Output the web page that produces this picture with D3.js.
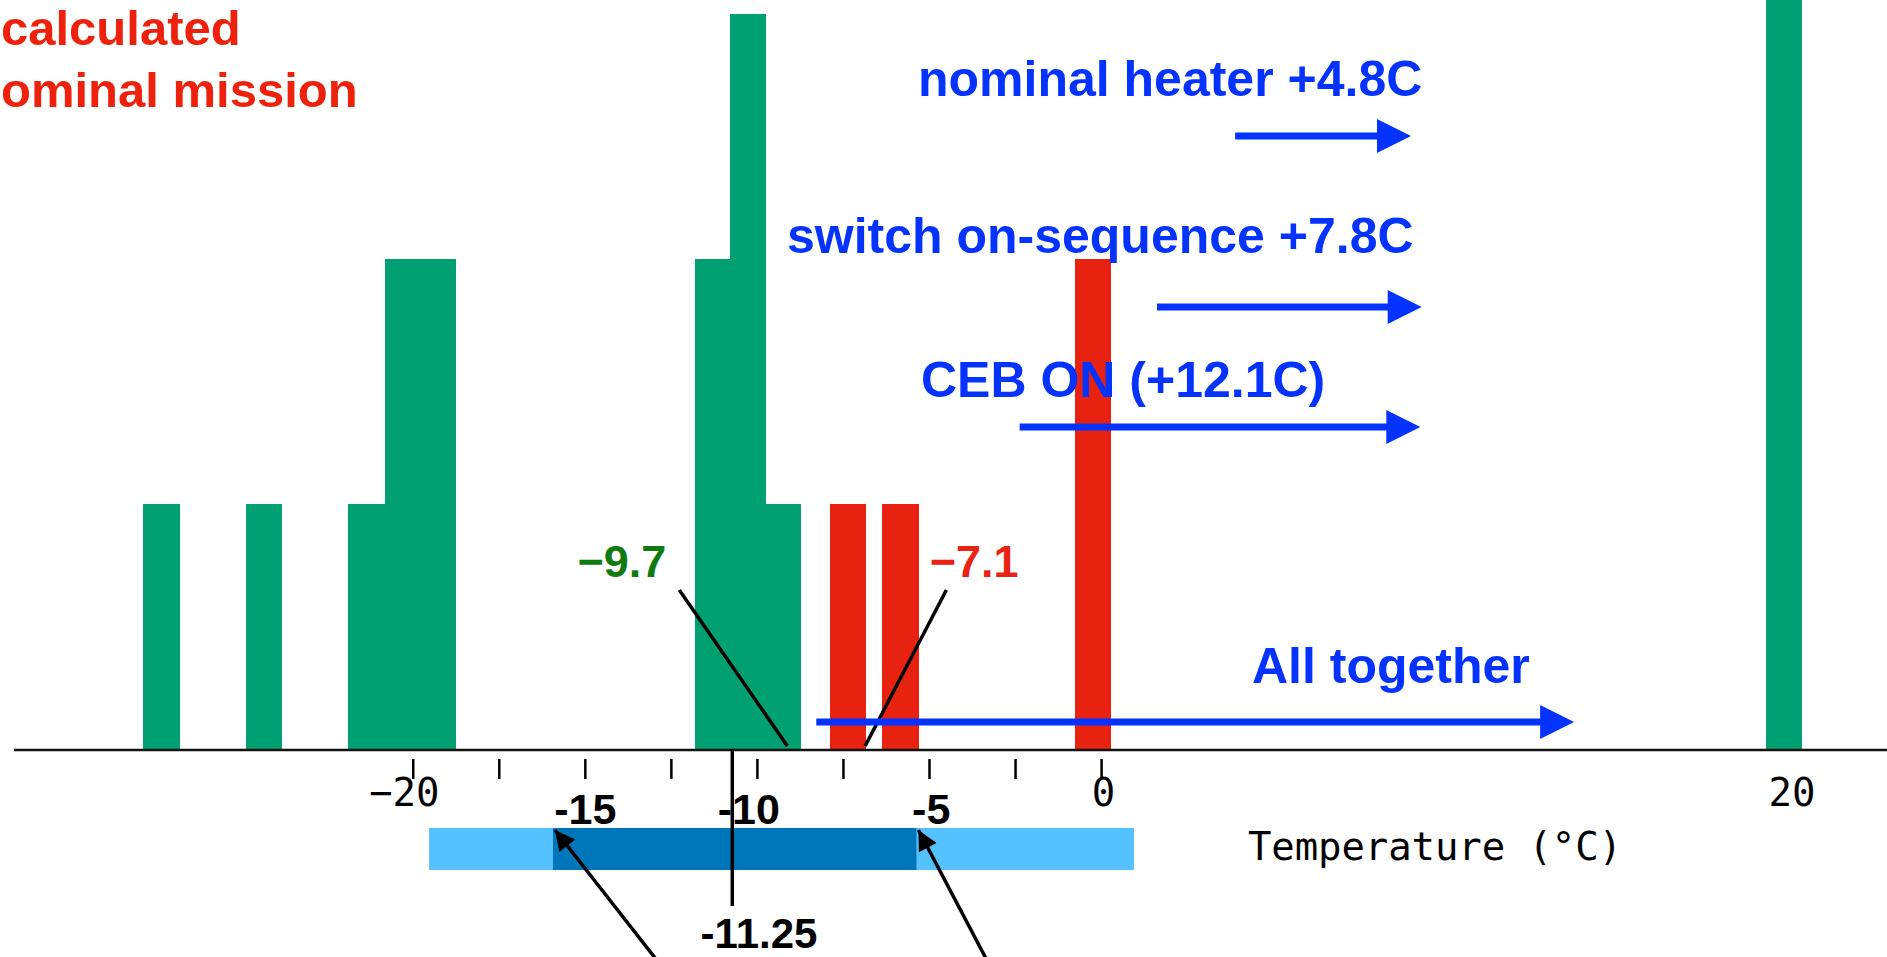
<!DOCTYPE html>
<html>
<head>
<meta charset="utf-8">
<script src="https://cdn.jsdelivr.net/npm/d3@7"></script>
<style>
  html, body { margin: 0; padding: 0; background: #fff; overflow: hidden; }
  .bold { font-family: "Liberation Sans", Arial, Helvetica, sans-serif; font-weight: bold; }
  .mono { font-family: "DejaVu Sans Mono", monospace; }
</style>
</head>
<body>
<div id="chart"></div>
<script>
// histogram bins: [low °C, high °C, count]
const greenBins = [
  [-27.85, -26.78, 1],
  [-24.87, -23.81, 1],
  [-21.89, -20.83, 1],
  [-20.83, -19.79, 2],
  [-19.79, -18.75, 2],
  [-11.80, -10.80, 2],
  [-10.80, -9.74, 3],
  [-9.74, -8.74, 1],
  [19.29, 20.34, 4]
];
const redBins = [
  [-7.89, -6.85, 1],
  [-6.37, -5.30, 1],
  [-0.78, 0.27, 2]
];

const tickValues = [-20, -17.5, -15, -12.5, -10, -7.5, -5, -2.5, 0];
const tickLabels = [-20, 0, 20];

// heating steps: label, arrow start °C, arrow end °C
const heaterLabels = ["nominal heater +4.8C", "switch on-sequence +7.8C", "CEB ON (+12.1C)", "All together"];
const heaterStart = [3.88, 1.61, -2.38, -8.29];
const heaterEnd = [8.99, 9.30, 9.26, 13.73];
const heaterTextX = [918, 787, 921, 1252];
const heaterTextY = [96, 253, 397, 683];
const heaterArrowY = [136, 307, 427, 722];

// mean call-outs: [text, label centre °C, line start °C, line end °C, colour]
const callouts = [
  ["\u22129.7", -13.94, -12.27, -9.13, "#0f7b0f"],
  ["\u22127.1", -3.70, -4.51, -6.87, "#ea2211"]
];

// range band
const bandOuter = [-19.54, 0.94];
const bandInner = [-15.94, -5.38];
const bandLabels = ["-15", "-10", "-5"];
const bandLabelPos = [-15, -10.25, -4.95];
const bandArrowTail = [-12.95, -3.35];
const centreLine = -10.73;
const centreLabel = "-11.25";

const titleLines = ["calculated", "ominal mission"];

const width = 1887;
const height = 957;

const svg = d3.select("#chart")
  .append("svg")
  .attr("width", width)
  .attr("height", height);

const x = d3.scaleLinear()
  .domain([-31.6, 22.82])
  .range([14, width]);

const y = d3.scaleLinear()
  .domain([0, 3])
  .range([749, 14]);

// bars
const bars = svg.append("g").attr("shape-rendering", "crispEdges");
bars.selectAll("rect.green")
  .data(greenBins)
  .enter()
  .append("rect")
  .attr("class", "green")
  .attr("x", d => Math.round(x(d[0])))
  .attr("width", d => Math.round(x(d[1])) - Math.round(x(d[0])))
  .attr("y", d => y(d[2]))
  .attr("height", d => y(0) - y(d[2]))
  .attr("fill", "#00a073");

bars.selectAll("rect.red")
  .data(redBins)
  .enter()
  .append("rect")
  .attr("class", "red")
  .attr("x", d => Math.round(x(d[0])))
  .attr("width", d => Math.round(x(d[1])) - Math.round(x(d[0])))
  .attr("y", d => y(d[2]))
  .attr("height", d => y(0) - y(d[2]))
  .attr("fill", "#e82210");

// axis line
svg.append("line")
  .attr("x1", x.range()[0])
  .attr("x2", x.range()[1])
  .attr("y1", y(0) + 1)
  .attr("y2", y(0) + 1)
  .attr("stroke", "#111")
  .attr("stroke-width", 2.5);

// ticks (detached from the axis line)
svg.append("g").selectAll("line")
  .data(tickValues)
  .enter()
  .append("line")
  .attr("x1", d => x(d))
  .attr("x2", d => x(d))
  .attr("y1", 759)
  .attr("y2", 779)
  .attr("stroke", "#000")
  .attr("stroke-width", 2.5);

const fmt = v => (v < 0 ? "\u2212" : "") + Math.abs(v);
svg.append("g").selectAll("text")
  .data(tickLabels)
  .enter()
  .append("text")
  .attr("class", "mono")
  .attr("x", d => x(d) + 2)
  .attr("dx", d => d < 0 ? -11 : 0)
  .attr("y", 806)
  .attr("text-anchor", "middle")
  .attr("font-size", 39)
  .attr("fill", "#000")
  .text(fmt);

svg.append("text")
  .attr("class", "mono")
  .attr("x", 1248)
  .attr("y", 860)
  .attr("font-size", 39)
  .attr("textLength", 374)
  .attr("fill", "#000")
  .text("Temperature (\u00b0C)");

// red title
svg.append("g").selectAll("text")
  .data(titleLines)
  .enter()
  .append("text")
  .attr("class", "bold")
  .attr("x", 1)
  .attr("y", (d, i) => 45 + i * 62)
  .attr("font-size", 49)
  .attr("fill", "#ee220c")
  .text(d => d);

// range band
svg.append("rect")
  .attr("x", x(bandOuter[0]))
  .attr("width", x(bandOuter[1]) - x(bandOuter[0]))
  .attr("y", 828)
  .attr("height", 42)
  .attr("fill", "#56c1ff");
svg.append("rect")
  .attr("x", x(bandInner[0]))
  .attr("width", x(bandInner[1]) - x(bandInner[0]))
  .attr("y", 828)
  .attr("height", 42)
  .attr("fill", "#0076ba");

svg.append("g").selectAll("text")
  .data(bandLabels)
  .enter()
  .append("text")
  .attr("class", "bold")
  .attr("x", (d, i) => x(bandLabelPos[i]))
  .attr("y", 824)
  .attr("text-anchor", "middle")
  .attr("font-size", 43)
  .attr("fill", "#000")
  .text(d => d);

// centre line
svg.append("line")
  .attr("x1", x(centreLine))
  .attr("x2", x(centreLine))
  .attr("y1", y(0))
  .attr("y2", 906)
  .attr("stroke", "#000")
  .attr("stroke-width", 3.5);
svg.append("text")
  .attr("class", "bold")
  .attr("x", 759)
  .attr("y", 948)
  .attr("text-anchor", "middle")
  .attr("font-size", 42)
  .attr("fill", "#000")
  .text(centreLabel);

// black arrows pointing at the band edges
const defs = svg.append("defs");
defs.append("marker")
  .attr("id", "blackhead")
  .attr("viewBox", "0 0 10 10")
  .attr("refX", 10)
  .attr("refY", 5)
  .attr("markerUnits", "userSpaceOnUse")
  .attr("markerWidth", 24)
  .attr("markerHeight", 20)
  .attr("orient", "auto")
  .append("path")
  .attr("d", "M0,0 L10,5 L0,10 z")
  .attr("fill", "#000");

svg.append("g").selectAll("line")
  .data(bandArrowTail)
  .enter()
  .append("line")
  .attr("x1", d => x(d))
  .attr("y1", height + 2)
  .attr("x2", (d, i) => x(bandInner[i]) + 2)
  .attr("y2", 830)
  .attr("stroke", "#000")
  .attr("stroke-width", 3.5)
  .attr("marker-end", "url(#blackhead)");

// call-outs for the means
const co = svg.append("g").selectAll("g")
  .data(callouts)
  .enter()
  .append("g");
co.append("text")
  .attr("class", "bold")
  .attr("x", d => x(d[1]))
  .attr("y", 577)
  .attr("text-anchor", "middle")
  .attr("font-size", 45)
  .attr("fill", d => d[4])
  .text(d => d[0]);
co.append("line")
  .attr("x1", d => x(d[2]))
  .attr("y1", 590)
  .attr("x2", d => x(d[3]))
  .attr("y2", y(0) - 3)
  .attr("stroke", "#000")
  .attr("stroke-width", 3.5);

// blue heating arrows
const blue = "#0433ff";
const headLen = 34, headHalf = 17;
const ha = svg.append("g").selectAll("g")
  .data(heaterLabels)
  .enter()
  .append("g");
ha.append("line")
  .attr("x1", (d, i) => x(heaterStart[i]))
  .attr("x2", (d, i) => x(heaterEnd[i]) - headLen + 2)
  .attr("y1", (d, i) => heaterArrowY[i])
  .attr("y2", (d, i) => heaterArrowY[i])
  .attr("stroke", blue)
  .attr("stroke-width", 7);
ha.append("path")
  .attr("d", (d, i) => {
    const tip = x(heaterEnd[i]), yy = heaterArrowY[i];
    return `M${tip},${yy} L${tip - headLen},${yy - headHalf} L${tip - headLen},${yy + headHalf} Z`;
  })
  .attr("fill", blue);
ha.append("text")
  .attr("class", "bold")
  .attr("x", (d, i) => heaterTextX[i])
  .attr("y", (d, i) => heaterTextY[i])
  .attr("font-size", 50)
  .attr("fill", blue)
  .text(d => d);
</script>
</body>
</html>
